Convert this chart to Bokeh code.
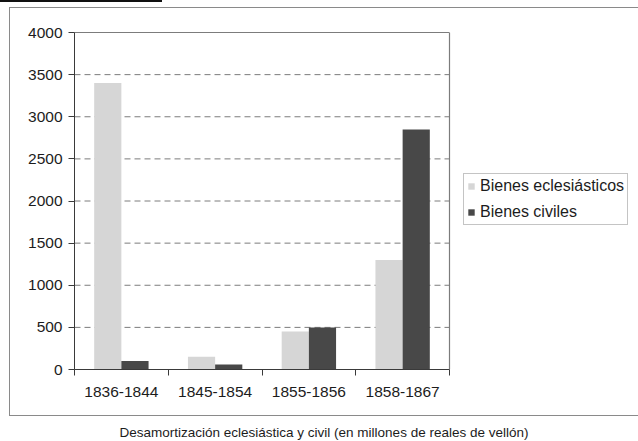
import numpy as np
from bokeh.plotting import figure
from bokeh.models import (Range1d, FixedTicker, Legend, LegendItem, ColumnDataSource,
                          LinearAxis, Div)
from bokeh.transform import dodge
from bokeh.layouts import column
from bokeh.embed import file_html
from bokeh.resources import INLINE

categories = ["1836-1844", "1845-1854", "1855-1856", "1858-1867"]
eclesiasticos = [3400, 150, 450, 1300]
civiles = [100, 60, 500, 2850]
y_ticks = [0, 500, 1000, 1500, 2000, 2500, 3000, 3500, 4000]
series_names = ["Bienes eclesiásticos", "Bienes civiles"]
caption = "Desamortización eclesiástica y civil (en millones de reales de vellón)"

FONT = "Liberation Sans"
LIGHT = "#d6d6d6"
DARK = "#484848"
TXT = "#1c1c1c"
AX = "#3a3a3a"
GRID = "#7c7c7c"
BOX = "#8a8a8a"

n = len(categories)
X_END = 6.016   # frame extends right so the legend (inside frame) is not clipped

pos = list(np.arange(n) + 0.5)
src = ColumnDataSource(dict(x=pos, ecl=eclesiasticos, civ=civiles, cat=categories))

p = figure(width=629, height=409, output_backend="svg", toolbar_location=None,
           x_range=Range1d(0, X_END), y_range=Range1d(0, y_ticks[-1]))
p.margin = (7, 0, 0, 9)
p.styles = {"box-shadow": f"inset 1px 1px 0 0 {BOX}, inset 0 -1px 0 0 {BOX}"}
p.min_border_left = 65
p.min_border_top = 25
p.min_border_bottom = 47
p.min_border_right = 0
p.background_fill_color = "white"
p.border_fill_alpha = 0
p.outline_line_color = None
p.xgrid.grid_line_color = None
p.ygrid.grid_line_color = None

# dashed horizontal gridlines limited to the plot area
inner = y_ticks[1:-1]
p.segment(x0=[0] * len(inner), x1=[n] * len(inner), y0=inner, y1=inner,
          line_color=GRID, line_width=1, line_dash="6 4", level="underlay")
# right border of the plot area
p.segment(x0=[n], x1=[n], y0=[y_ticks[0]], y1=[y_ticks[-1]],
          line_color=GRID, line_width=1.2, level="underlay")

r1 = p.vbar(x=dodge("x", -0.145, range=p.x_range), top="ecl", width=0.29, source=src,
            fill_color=LIGHT, line_color=None)
r2 = p.vbar(x=dodge("x", 0.145, range=p.x_range), top="civ", width=0.29, source=src,
            fill_color=DARK, line_color=None)

# y axis
p.yaxis.ticker = FixedTicker(ticks=y_ticks)
p.yaxis.axis_line_color = AX
p.yaxis.major_tick_line_color = AX
p.yaxis.major_tick_out = 6
p.yaxis.major_tick_in = 0
p.yaxis.minor_tick_line_color = None
p.yaxis.major_label_text_font = FONT
p.yaxis.major_label_text_font_size = "15.5px"
p.yaxis.major_label_text_color = TXT
p.yaxis.major_label_standoff = 6

# x axis: labels at centers, ticks at category boundaries
p.xaxis.bounds = (0, n)
p.xaxis.ticker = FixedTicker(ticks=pos, minor_ticks=list(range(n + 1)))
p.xaxis.major_label_overrides = {float(v): c for v, c in zip(pos, categories)}
p.xaxis.axis_line_color = AX
p.xaxis.major_tick_line_color = None
p.xaxis.major_tick_out = 0
p.xaxis.major_tick_in = 0
p.xaxis.minor_tick_line_color = AX
p.xaxis.minor_tick_out = 6
p.xaxis.minor_tick_in = 0
p.xaxis.major_label_text_font = FONT
p.xaxis.major_label_text_font_size = "15.5px"
p.xaxis.major_label_text_color = TXT
p.xaxis.major_label_standoff = 11

# top border of the plot area (solid line at 4000) as a bare axis above
top_axis = LinearAxis(bounds=(0, n), ticker=FixedTicker(ticks=[]),
                      axis_line_color=GRID, axis_line_width=1.2,
                      major_tick_line_color=None, minor_tick_line_color=None,
                      major_label_text_font_size="0px")
p.add_layout(top_axis, "above")

legend = Legend(items=[LegendItem(label=series_names[0], renderers=[r1]),
                       LegendItem(label=series_names[1], renderers=[r2])],
                location=(389, 144))
legend.margin = 0
legend.padding = 3
legend.spacing = 8
legend.glyph_width = 8
legend.glyph_height = 8
legend.label_height = 17
legend.label_standoff = 5
legend.label_text_font = FONT
legend.label_text_font_size = "16px"
legend.label_text_color = TXT
legend.border_line_color = BOX
legend.border_line_width = 1
legend.background_fill_color = "white"
p.add_layout(legend, "center")

cap = Div(text=caption, width=638, height=25,
          styles={"text-align": "center", "font-family": FONT, "font-size": "13.5px",
                  "color": TXT, "padding-top": "4px", "box-sizing": "border-box",
                  "line-height": "16px"})

layout = column(p, cap)
layout.styles = {"background": "linear-gradient(#111111, #111111) no-repeat 0 0 / 162px 2px"}
open("out.html", "w").write(file_html(layout, INLINE))
